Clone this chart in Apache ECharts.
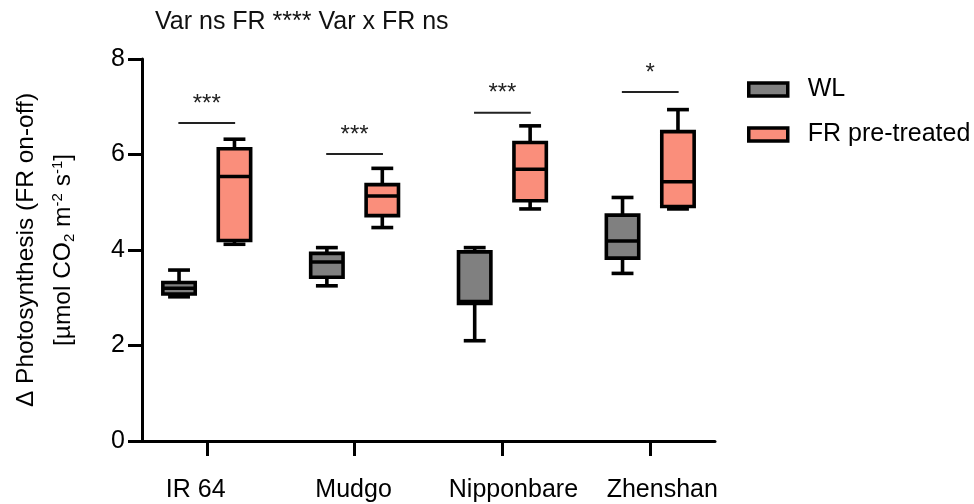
<!DOCTYPE html>
<html><head><meta charset="utf-8">
<script src="https://cdn.jsdelivr.net/npm/echarts@6/dist/echarts.min.js"></script>
<style>html,body{margin:0;padding:0;background:#fff}#c{width:974px;height:504px}</style>
</head><body><div id="c"></div>
<script>
// ---------- data ----------
const categories = ['IR 64', 'Mudgo', 'Nipponbare', 'Zhenshan'];
// each box: [min, Q1, median, Q3, max]
const wlValues = [
  [3.02, 3.08, 3.20, 3.32, 3.58],
  [3.25, 3.43, 3.75, 3.93, 4.05],
  [2.10, 2.88, 2.92, 3.96, 4.05],
  [3.51, 3.83, 4.19, 4.73, 5.10]
];
const frValues = [
  [4.12, 4.20, 5.54, 6.12, 6.32],
  [4.47, 4.72, 5.13, 5.37, 5.71],
  [4.86, 5.03, 5.69, 6.25, 6.60],
  [4.86, 4.91, 5.43, 6.48, 6.94]
];
const sigLevels = [6.66, 6.01, 6.875, 7.31];
const sigLabels = ['***', '***', '***', '*'];
const yTicks = [0, 2, 4, 6, 8];
const seriesNames = ['WL', 'FR pre-treated'];
const titleText = 'Var ns FR **** Var x FR ns';

// ---------- styles ----------
const FONT = '"Liberation Sans", Arial, sans-serif';
const FS = 25;
const WL_COLOR = '#808080';
const FR_COLOR = '#FA8E7B';
const labelShift = [-11, -1, 11, 12];

function boxRenderer(side, fill) {
  return function (params, api) {
    const x = api.value(0);
    const unit = api.size([1, 0])[0];
    const cx = api.coord([x, 0])[0] + side * 0.1875 * unit;
    const y = i => api.coord([x, api.value(i)])[1];
    const yMin = y(1), yQ1 = y(2), yMed = y(3), yQ3 = y(4), yMax = y(5);
    const bw = 0.219 * unit;
    const cw = 0.148 * unit;
    const ls = { stroke: '#000', lineWidth: 3.6 };
    return {
      type: 'group', children: [
        { type: 'line', shape: { x1: cx, y1: yMax, x2: cx, y2: yQ3 }, style: ls },
        { type: 'line', shape: { x1: cx, y1: yQ1, x2: cx, y2: yMin }, style: ls },
        { type: 'line', shape: { x1: cx - cw / 2, y1: yMax, x2: cx + cw / 2, y2: yMax }, style: ls },
        { type: 'line', shape: { x1: cx - cw / 2, y1: yMin, x2: cx + cw / 2, y2: yMin }, style: ls },
        { type: 'rect', shape: { x: cx - bw / 2, y: yQ3, width: bw, height: yQ1 - yQ3 },
          style: { fill: fill, stroke: '#000', lineWidth: 3.6 } },
        { type: 'line', shape: { x1: cx - bw / 2, y1: yMed, x2: cx + bw / 2, y2: yMed }, style: ls }
      ]
    };
  };
}

function sigRenderer(params, api) {
  const x = api.value(0);
  const unit = api.size([1, 0])[0];
  const p = api.coord([x, api.value(1)]);
  const hw = 0.192 * unit;
  return {
    type: 'group', children: [
      { type: 'line', shape: { x1: p[0] - hw, y1: p[1], x2: p[0] + hw, y2: p[1] },
        style: { stroke: '#222', lineWidth: 2 } },
      { type: 'text', x: p[0], y: p[1] - 19,
        style: { text: sigLabels[params.dataIndex], fill: '#222', fontSize: 24, fontFamily: FONT,
                 align: 'center', verticalAlign: 'middle' } }
    ]
  };
}

const rich = {};
labelShift.forEach((s, i) => {
  rich['s' + i] = { fontSize: FS, fontFamily: FONT, color: '#000',
    padding: s < 0 ? [0, -2 * s, 0, 0] : [0, 0, 0, 2 * s] };
});

const chart = echarts.init(document.getElementById('c'), null, { renderer: 'canvas' });
chart.setOption({
  animation: false,
  backgroundColor: '#fff',
  textStyle: { fontFamily: FONT },
  title: {
    text: titleText, left: 150, top: 5,
    textStyle: { fontSize: FS, fontWeight: 'normal', color: '#111', fontFamily: FONT }
  },
  legend: {
    orient: 'vertical', left: 742, top: 72, itemWidth: 39, itemHeight: 13, itemGap: 20,
    selectedMode: false,
    textStyle: { fontSize: FS, color: '#000', fontFamily: FONT, padding: [0, 0, 0, 15] },
    data: [
      { name: seriesNames[0], icon: 'rect', itemStyle: { color: WL_COLOR, borderColor: '#000', borderWidth: 3.5 } },
      { name: seriesNames[1], icon: 'rect', itemStyle: { color: FR_COLOR, borderColor: '#000', borderWidth: 3.5 } }
    ]
  },
  grid: { left: 140, right: 259, top: 59, bottom: 63 },
  xAxis: {
    type: 'value', min: -0.438, max: 3.438,
    axisLine: { onZero: false, lineStyle: { color: '#000', width: 3 } },
    axisTick: { show: true, customValues: categories.map((c, i) => i), length: 15,
                lineStyle: { color: '#000', width: 3 } },
    axisLabel: {
      customValues: categories.map((c, i) => i), margin: 37, fontSize: FS, color: '#000',
      formatter: v => { const i = Math.round(v); return '{s' + i + '|' + categories[i] + '}'; },
      rich: rich
    },
    splitLine: { show: false }
  },
  yAxis: {
    type: 'value', min: yTicks[0], max: yTicks[yTicks.length - 1], interval: 2,
    axisLine: { show: true, onZero: false, lineStyle: { color: '#000', width: 3 } },
    axisTick: { show: true, length: 14, lineStyle: { color: '#000', width: 3 } },
    axisLabel: { fontSize: FS, color: '#000', margin: 17 },
    splitLine: { show: false },
    name: '{a|\u0394 Photosynthesis (FR on-off)}\n{a|[\u00b5mol CO}{sub|2}{a| m}{sup|-2}{a| s}{sup|-1}{a|]}',
    nameLocation: 'middle', nameRotate: 90, nameGap: 60,
    nameTextStyle: {
      fontSize: 24.5, lineHeight: 37, color: '#000',
      rich: {
        a: { fontSize: 24.5, lineHeight: 37, color: '#000', fontFamily: FONT },
        sub: { fontSize: 15, lineHeight: 37, color: '#000', fontFamily: FONT, padding: [12, 0, 0, 0] },
        sup: { fontSize: 15, lineHeight: 37, color: '#000', fontFamily: FONT, padding: [0, 0, 12, 0] }
      }
    }
  },
  series: [
    { name: seriesNames[0], type: 'custom', itemStyle: { color: WL_COLOR },
      renderItem: boxRenderer(-1, WL_COLOR), encode: { x: 0, y: [1, 2, 3, 4, 5] },
      data: wlValues.map((v, i) => [i].concat(v)) },
    { name: seriesNames[1], type: 'custom', itemStyle: { color: FR_COLOR },
      renderItem: boxRenderer(1, FR_COLOR), encode: { x: 0, y: [1, 2, 3, 4, 5] },
      data: frValues.map((v, i) => [i].concat(v)) },
    { name: 'sig', type: 'custom', renderItem: sigRenderer, encode: { x: 0, y: 1 },
      data: sigLevels.map((v, i) => [i, v]) }
  ]
});
</script></body></html>
